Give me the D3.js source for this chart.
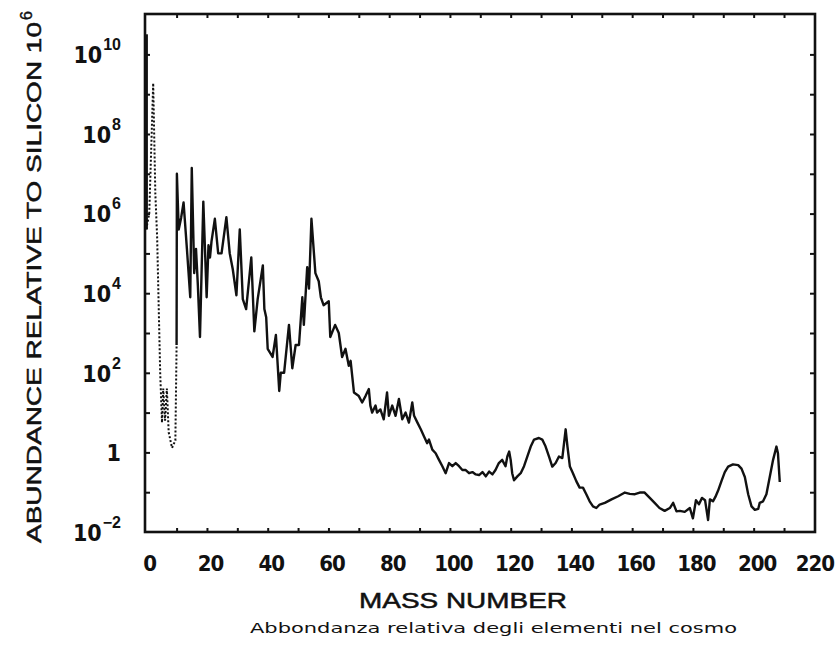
<!DOCTYPE html>
<html><head><meta charset="utf-8">
<script src="https://cdn.jsdelivr.net/npm/d3@7"></script>
<style>body{margin:0;background:#fff}</style>
</head><body><svg id="c" width="837" height="646"></svg>
<script>
// ---- data (mass number vs abundance, Si = 10^6) ----
const massH = [0, 0];
const abundH = [3.2e10, 4.0e5];

const massDotted = [0, 1.0, 2.3, 3.0, 3.6, 4.6, 5.2, 5.6, 6.2, 6.8, 7.4, 8.5, 9.6, 10.0];
const abundDotted = [4.0e5, 1.0e6, 1.9e9, 3.2e6, 2.5e5, 100, 5.6, 40, 6.3, 40, 3.2, 1.3, 2.0, 500];

const massMain = [10.0,10.1,10.7,11.5,12.3,13.4,14.5,15.0,15.8,16.4,17.0,17.7,18.8,19.9,20.5,21.0,21.5,22.6,23.7,24.8,
  26.4,27.5,28.5,29.7,30.8,31.8,32.9,34.6,35.6,36.7,38.4,38.9,39.5,40.0,41.6,42.7,43.8,44.3,45.4,47.0,
  48.1,49.2,50.3,51.4,51.9,53.0,53.6,54.4,55.7,56.8,57.5,58.4,60.1,60.6,62.2,63.4,64.5,65.6,66.7,67.3,
  68.4,70.0,71.1,72.2,73.3,73.8,74.4,75.5,76.0,77.1,78.2,79.3,79.9,81.0,82.1,83.2,84.3,85.4,86.5,87.6,
  88.2,89.3,90.4,91.4,92.5,93.1,94.2,95.3,96.4,97.5,98.6,99.7,100.8,101.9,103.0,104.1,105.2,106.3,107.4,108.5,
  109.6,110.7,111.8,112.9,114.0,115.0,116.1,117.2,118.3,118.9,119.5,120.0,120.5,121.1,122.2,123.3,124.4,125.5,126.6,127.7,
  129.3,130.4,131.5,132.6,133.7,134.8,135.9,137.0,138.1,138.7,139.5,140.5,141.6,142.7,143.8,144.9,146.0,147.1,148.2,149.3,
  151.0,153.2,155.4,157.6,159.2,160.9,162.5,164.1,165.8,167.4,169.0,170.7,172.4,173.5,174.6,175.7,177.3,179.0,180.0,181.0,
  182.0,183.0,184.0,185.0,185.6,186.6,187.4,188.3,189.4,190.5,191.6,193.2,194.9,196.0,197.1,198.2,199.3,200.4,201.5,202.0,
  203.1,204.2,205.3,206.4,207.5,208.0,208.6];
const abundMain = [500,1.0e7,4.0e5,7.9e5,1.9e6,1.3e5,7.9e3,1.4e7,3.2e4,1.3e5,1.6e4,790,2.0e6,7.9e3,1.6e5,7.9e4,2.0e5,7.4e5,1.0e5,1.0e5,
  8.1e5,1.0e5,4.0e4,8.9e3,4.0e5,7.1e3,4.0e3,7.9e4,1.1e3,7.1e3,5.0e4,4.0e3,2.5e3,400,250,890,35,100,100,1.6e3,
  130,500,500,7.9e3,1.6e3,4.5e4,1.3e4,7.4e5,3.2e4,2.0e4,7.9e3,5.0e3,6.3e3,790,1.6e3,1.0e3,250,400,150,200,
  32,26,18,26,39,15,10,15,10,12,6.8,32,8.3,15,8.3,22,6.8,10,5.6,18,
  8.3,5.6,3.8,2.6,1.7,2.1,1.17,0.95,0.65,0.45,0.30,0.54,0.45,0.54,0.45,0.36,0.36,0.30,0.32,0.28,
  0.27,0.32,0.25,0.33,0.28,0.36,0.54,0.65,0.45,0.79,1.05,0.65,0.30,0.20,0.25,0.30,0.45,0.79,1.4,2.1,
  2.3,2.1,1.4,0.79,0.44,0.54,0.79,0.72,3.8,1.4,0.44,0.30,0.19,0.13,0.13,0.089,0.059,0.044,0.040,0.049,
  0.054,0.066,0.079,0.098,0.091,0.089,0.098,0.098,0.072,0.054,0.040,0.034,0.040,0.054,0.033,0.034,0.032,0.040,0.022,0.063,
  0.050,0.072,0.063,0.020,0.066,0.059,0.076,0.11,0.19,0.32,0.44,0.50,0.48,0.39,0.24,0.089,0.044,0.036,0.038,0.054,
  0.059,0.089,0.24,0.65,1.4,0.95,0.18];

const yTickValues = [1e-2, 1, 1e2, 1e4, 1e6, 1e8, 1e10];
const yTickBase = ["10", "1", "10", "10", "10", "10", "10"];
const yTickExp  = ["\u22122", "", "2", "4", "6", "8", "10"];
const yMinorTicks = [1e-1,1,1e1,1e2,1e3,1e4,1e5,1e6,1e7,1e8,1e9,1e10];
const xTickValues = [0,20,40,60,80,100,120,140,160,180,200,220];
const xMinorTicks = [10,20,30,40,50,60,70,80,90,100,110,120,130,140,150,160,170,180,190,200,210];
const xTitle = "MASS NUMBER";
const yTitle = "ABUNDANCE RELATIVE TO SILICON 10";
const yTitleExp = "6";
const caption = "Abbondanza relativa degli elementi nel cosmo";

// ---- layout ----
const L = 145, R = 815, T = 14, B = 532;
const svg = d3.select("#c");
const x = d3.scaleLinear().domain([-0.4, 220.2]).range([L, R]);
const y = d3.scaleLog().domain([1e-2, Math.pow(10, 11.015)]).range([B, T]);

const ink = "#111";
const tickFont = "'Liberation Sans Narrow','DejaVu Sans Condensed','Liberation Sans',sans-serif";
const titleFont = "'Liberation Sans',Arial,sans-serif";

// ticks (inward)
const gb = svg.append("g").attr("transform", `translate(0,${B})`)
  .call(d3.axisBottom(x).tickValues(xMinorTicks).tickSize(-4).tickFormat(""));
const gt = svg.append("g").attr("transform", `translate(0,${T})`)
  .call(d3.axisTop(x).tickValues(xMinorTicks).tickSize(-4).tickFormat(""));
const gl = svg.append("g").attr("transform", `translate(${L},0)`)
  .call(d3.axisLeft(y).tickValues(yMinorTicks).tickSize(-5).tickFormat(""));
const gr = svg.append("g").attr("transform", `translate(${R},0)`)
  .call(d3.axisRight(y).tickValues(yMinorTicks).tickSize(-5).tickFormat(""));
[gb, gt, gl, gr].forEach(g => {
  g.select(".domain").remove();
  g.selectAll("line").attr("stroke", ink).attr("stroke-width", 2);
});

// frame
svg.append("rect").attr("x", L).attr("y", T).attr("width", R - L).attr("height", B - T)
  .attr("fill", "none").attr("stroke", ink).attr("stroke-width", 2.6);

// x labels
const gxl = svg.append("g").attr("transform", `translate(0,${B})`)
  .call(d3.axisBottom(x).tickValues(xTickValues).tickSize(0).tickPadding(23));
gxl.select(".domain").remove();
gxl.selectAll("text").attr("font-family", tickFont).attr("font-size", 22).attr("font-weight", "bold")
  .attr("fill", ink).attr("dx", d => d === 220 ? 0 : 3).attr("letter-spacing", -1);

// y labels
const gyl = svg.append("g").attr("transform", `translate(${L},0)`)
  .call(d3.axisLeft(y).tickValues(yTickValues).tickSize(0).tickPadding(24).tickFormat(""));
gyl.select(".domain").remove();
gyl.selectAll("text").each(function(d, i) {
  const t = d3.select(this).attr("font-family", tickFont).attr("font-size", 23).attr("font-weight", "bold")
    .attr("fill", ink).attr("dy", "0.36em").text(null);
  t.append("tspan").text(yTickBase[i]);
  if (yTickExp[i]) {
    t.append("tspan").attr("font-family", titleFont).attr("font-size", 16).attr("font-weight", "bold")
      .attr("dy", -13).attr("dx", 1).text(yTickExp[i]);
  }
});

// curves
const line = d3.line().x(d => x(d[0])).y(d => y(d[1]));
svg.append("path").datum(massH.map((m, i) => [m, abundH[i]]))
  .attr("d", line).attr("fill", "none").attr("stroke", ink).attr("stroke-width", 3.4);
svg.append("path").datum(massDotted.map((m, i) => [m, abundDotted[i]]))
  .attr("d", line).attr("fill", "none").attr("stroke", ink).attr("stroke-width", 2)
  .attr("stroke-dasharray", "2,2");
svg.append("path").datum(massMain.map((m, i) => [m, abundMain[i]]))
  .attr("d", line).attr("fill", "none").attr("stroke", ink).attr("stroke-width", 2.4)
  .attr("stroke-linejoin", "round");

// titles
svg.append("text").attr("x", 359).attr("y", 608).attr("font-family", titleFont)
  .attr("font-size", 22).attr("fill", ink).attr("stroke", ink).attr("stroke-width", 0.5)
  .attr("textLength", 208).attr("lengthAdjust", "spacingAndGlyphs")
  .text(xTitle);

const yt = svg.append("g").attr("transform", "translate(41,543) rotate(-90)");
yt.append("text").attr("x", 0).attr("y", 0).attr("font-family", titleFont)
  .attr("font-size", 21).attr("fill", ink).attr("stroke", ink).attr("stroke-width", 0.5)
  .attr("textLength", 521).attr("lengthAdjust", "spacingAndGlyphs")
  .text(yTitle);
yt.append("text").attr("x", 523).attr("y", -9).attr("font-family", titleFont)
  .attr("font-size", 16).attr("fill", ink).attr("stroke", ink).attr("stroke-width", 0.4).text(yTitleExp);

svg.append("text").attr("x", 250).attr("y", 633).attr("font-family", "'DejaVu Sans',sans-serif")
  .attr("font-size", 14).attr("fill", ink).attr("textLength", 487).attr("lengthAdjust", "spacingAndGlyphs")
  .text(caption);
</script></body></html>
